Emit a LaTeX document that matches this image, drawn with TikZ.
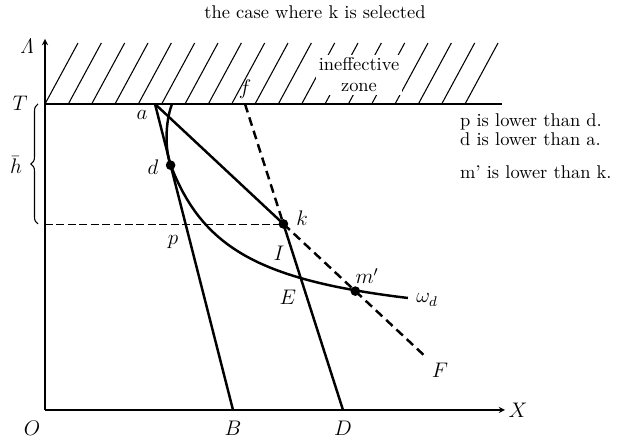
\documentclass[tikz,border=0pt]{standalone}
\usetikzlibrary{calc,decorations.pathreplacing}
\begin{document}
\begin{tikzpicture}[
  thinline/.style={line width=0.6pt},
  heavy/.style={line width=1.4pt},
  heavydash/.style={line width=1.4pt,dash pattern=on 5pt off 3pt},
  thindash/.style={line width=0.5pt,dash pattern=on 4.5pt off 2pt},
  dot/.style={circle,fill,inner sep=0pt,minimum size=5.5pt},
  lbl/.style={font=\large,inner sep=1pt},
  txt/.style={font=\fontsize{10.5}{12}\selectfont}]
\useasboundingbox (-0.9,-0.56) rectangle (11.74,8.2);

\coordinate (O) at (0,0);
\coordinate (T) at (0,6.12);
\coordinate (Tend) at (9.14,6.12);
\coordinate (Xend) at (9.2,0);
\coordinate (Yend) at (0,7.42);

% hatching above T
\foreach \i in {0,...,18}
  \draw[thinline] (0.4667*\i,6.12) -- ++(0.66,1.22);
\node[txt,fill=white,align=center,inner sep=1.5pt] (zone) at (6.28,6.7) {ineffective\\zone};

\draw[thinline,-stealth] (O) -- (Xend);
\draw[thinline,-stealth] (O) -- (Yend);
\draw[thinline] (T) -- (Tend);

\coordinate (a) at (2.2,6.12);
\coordinate (f) at (4.0,6.12);
\coordinate (B) at (3.76,0);
\coordinate (D) at (5.96,0);
\coordinate (k) at ($(f)!0.392!(D)$);
\coordinate (F) at ($(a)!2.1!(k)$);
\coordinate (d) at ($(a)!0.2!(B)$);
\coordinate (E) at ($(f)!0.5686!(D)$);
\coordinate (m) at ($(a)!1.56!(k)$);
\coordinate (wtop) at (2.54,6.12);

\draw[thindash] (O |- k) -- (k);
\draw[heavy] (a) -- (B);
\draw[heavy] (a) -- (k);
\draw[heavydash] (k) -- (F);
\draw[heavydash] (f) -- (k);
\draw[heavy] (k) -- (D);
% omega_d
\draw[heavy] (wtop) .. controls (2.40,5.75) and (2.40,5.2) .. (d)
  -- plot[domain=2.512:7.26,samples=60] (\x,{1.5165+4.37/(\x-1.22)});

\node[dot] (dd) at (d) {};
\node[dot] (kk) at (k) {};
\node[dot] (mm) at (m) {};

\draw[thinline,decorate,decoration={brace,amplitude=4pt}] (-0.14,3.72) -- (-0.14,6.12);

\node[lbl] (lLam) at (-0.36,7.28) {$\mathit{\Lambda}$};
\node[lbl] (lT) at (-0.5,6.14) {$T$};
\node[lbl] (lh) at (-0.58,4.9) {$\bar h$};
\node[lbl] (lO) at (-0.26,-0.36) {$O$};
\node[lbl] (lB) at (3.76,-0.36) {$B$};
\node[lbl] (lD) at (5.96,-0.36) {$D$};
\node[lbl] (lX) at (9.46,0) {$X$};
\node[lbl] (la) at (1.94,5.9) {$a$};
\node[lbl] (ld) at (2.16,4.86) {$d$};
\node[lbl] (lp) at (2.56,3.36) {$p$};
\node[lbl] (lf) at (4.0,6.42) {$f$};
\node[lbl] (lk) at (5.14,3.84) {$k$};
\node[lbl] (lI) at (4.68,3.14) {$I$};
\node[lbl] (lE) at (4.86,2.26) {$E$};
\node[lbl] (lm) at (6.44,2.68) {$m'$};
\node[lbl] (lw) at (7.64,2.2) {$\omega_d$};
\node[lbl] (lF) at (7.9,0.8) {$F$};

\node[txt] (title) at (5.4,7.96) {the case where k is selected};
\node[txt,anchor=west] (r1) at (8.18,5.76) {p is lower than d.};
\node[txt,anchor=west] (r2) at (8.18,5.42) {d is lower than a.};
\node[txt,anchor=west] (r3) at (8.18,4.76) {m' is lower than k.};
\end{tikzpicture}
\end{document}
